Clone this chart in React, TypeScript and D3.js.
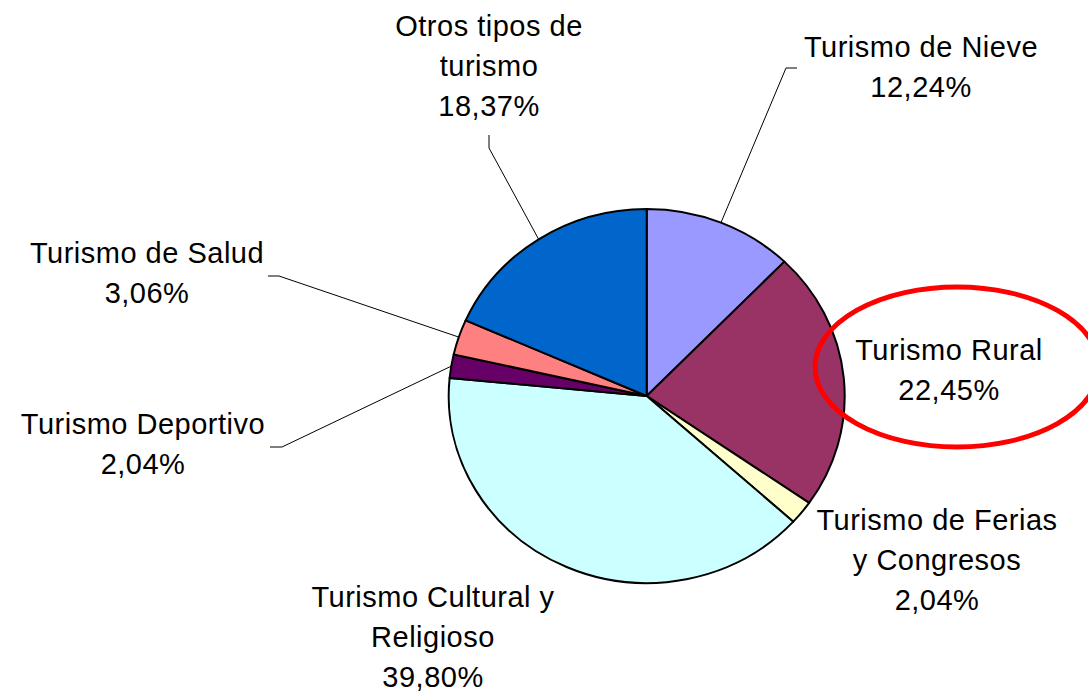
import React from "react";
import * as d3 from "d3";

const categories = [
  "Turismo de Nieve",
  "Turismo Rural",
  "Turismo de Ferias y Congresos",
  "Turismo Cultural y Religioso",
  "Turismo Deportivo",
  "Turismo de Salud",
  "Otros tipos de turismo",
];
const values = [12.24, 22.45, 2.04, 39.8, 2.04, 3.06, 18.37];
const labelLines = [
  ["Turismo de Nieve"],
  ["Turismo Rural"],
  ["Turismo de Ferias", "y Congresos"],
  ["Turismo Cultural y", "Religioso"],
  ["Turismo Deportivo"],
  ["Turismo de Salud"],
  ["Otros tipos de", "turismo"],
];
const sliceColors = ["#9999FF", "#993366", "#FFFFCC", "#CCFFFF", "#660066", "#FF8080", "#0066CC"];

// label placement: centre x, first baseline, and the short elbow of the leader line
const labelLayout = [
  { x: 921, y: 57, elbow: [[797, 68], [786, 68]] },
  { x: 949, y: 360, elbow: null },
  { x: 937, y: 530, elbow: null },
  { x: 433, y: 607, elbow: null },
  { x: 143, y: 434, elbow: [[270, 447], [282, 447]] },
  { x: 147, y: 263, elbow: [[268, 276], [279, 276]] },
  { x: 489, y: 36, elbow: [[489, 135], [489, 148]] },
];

const W = 1088;
const H = 693;
const cx = 646.7;
const cy = 396;
const rx = 198;
const ry = 187;
const lineH = 39.8;

const fmt = d3.format(".2f");
const pct = (v: number) => fmt(v).replace(".", ",") + "%";

const App = () => {
  const data = values.map((v, i) => ({ label: categories[i], value: v, i }));
  const pie = d3
    .pie<any>()
    .value(d => d.value)
    .sort(null);
  const arcs = pie(data);
  const arc = d3.arc<any>().innerRadius(0).outerRadius(rx);
  const line = d3.line();

  const edgePoint = (a: any) => {
    const m = (a.startAngle + a.endAngle) / 2;
    return [cx + rx * Math.sin(m), cy - ry * Math.cos(m)] as [number, number];
  };

  return (
    <svg
      width={W}
      height={H}
      style={{ position: "absolute", left: 0, top: 0, background: "#fff" }}
      fontFamily="'Liberation Sans', Arial, sans-serif"
    >
      <g transform={`translate(${cx},${cy}) scale(1,${ry / rx})`}>
        {arcs.map((a, i) => (
          <path
            key={i}
            d={arc(a) || ""}
            fill={sliceColors[i]}
            stroke="#000"
            strokeWidth={2}
            strokeLinejoin="round"
            vectorEffect="non-scaling-stroke"
          />
        ))}
      </g>
      {arcs.map((a, i) => {
        const lay = labelLayout[i];
        if (!lay.elbow) return null;
        const pts = [...lay.elbow, edgePoint(a)] as [number, number][];
        return (
          <path key={"l" + i} d={line(pts) || ""} fill="none" stroke="#000" strokeWidth={1} />
        );
      })}
      {arcs.map((a, i) => {
        const lay = labelLayout[i];
        const lines = [...labelLines[i], pct(values[i])];
        return (
          <text
            key={"t" + i}
            x={lay.x}
            y={lay.y}
            textAnchor="middle"
            fontSize={29}
            letterSpacing={0.5}
            fill="#000"
          >
            {lines.map((s, j) => (
              <tspan key={j} x={lay.x} y={lay.y + j * lineH}>
                {s}
              </tspan>
            ))}
          </text>
        );
      })}
      <ellipse cx={957} cy={367} rx={142} ry={80} fill="none" stroke="#FF0000" strokeWidth={5} />
    </svg>
  );
};

export default App;
